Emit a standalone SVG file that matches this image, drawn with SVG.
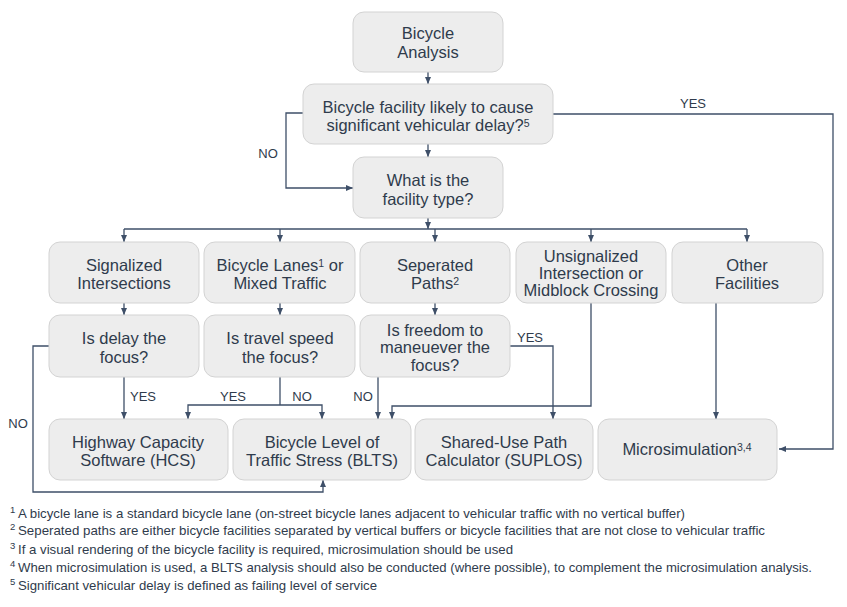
<svg xmlns="http://www.w3.org/2000/svg" width="847" height="607" viewBox="0 0 847 607">
<defs>
<style>
.box{fill:#ededed;stroke:#d3d3d3;stroke-width:1}
.t{font-family:"Liberation Sans",Arial,sans-serif;font-size:16.5px;fill:#2f3b4c;text-anchor:middle}
.sup{font-size:10.5px}
.lbl{font-family:"Liberation Sans",Arial,sans-serif;font-size:13px;fill:#2f3b4c;text-anchor:middle}
.fn{font-family:"Liberation Sans",Arial,sans-serif;font-size:13.5px;fill:#2f3b4c}
.fs{font-family:"Liberation Sans",Arial,sans-serif;font-size:9.5px;fill:#2f3b4c}
.c{fill:none;stroke:#3e4f68;stroke-width:1.3}
.a{marker-end:url(#arr)}
</style>
<marker id="arr" markerUnits="userSpaceOnUse" markerWidth="8" markerHeight="8" refX="7" refY="3" orient="auto">
<path d="M0,0 L7,3 L0,6 z" fill="#3e4f68"/>
</marker>
</defs>
<rect width="847" height="607" fill="#ffffff"/>

<g id="connectors">
<path class="c a" d="M428,72 V84"/>
<path class="c a" d="M428,144 V157"/>
<path class="c a" d="M303,113 H286 V188 H353"/>
<path class="c a" d="M553,114 H833 V449 H779"/>
<path class="c a" d="M428,218 V229"/>
<path class="c" d="M124,229 H747"/>
<path class="c a" d="M124,229 V242"/>
<path class="c a" d="M280,229 V242"/>
<path class="c a" d="M435,229 V242"/>
<path class="c a" d="M591,229 V242"/>
<path class="c a" d="M747,229 V242"/>
<path class="c a" d="M124,303 V315"/>
<path class="c a" d="M280,303 V315"/>
<path class="c a" d="M435,303 V315"/>
<path class="c a" d="M124,377 V419"/>
<path class="c a" d="M49,346 H33 V492 H323 V480"/>
<path class="c" d="M280,377 V405"/>
<path class="c a" d="M280,405 H188 V419"/>
<path class="c a" d="M280,405 H322 V419"/>
<path class="c a" d="M378,377 V419"/>
<path class="c a" d="M591,303 V406 H392 V419"/>
<path class="c a" d="M510,346 H553 V419"/>
<path class="c a" d="M716,303 V419"/>
<text class="lbl" x="268" y="158">NO</text>
<text class="lbl" x="693" y="108">YES</text>
<text class="lbl" x="143" y="401">YES</text>
<text class="lbl" x="233" y="401">YES</text>
<text class="lbl" x="302" y="401">NO</text>
<text class="lbl" x="363" y="401">NO</text>
<text class="lbl" x="530" y="342">YES</text>
<text class="lbl" x="18" y="428">NO</text>
</g>

<g id="n-bicycle-analysis">
<rect class="box" x="353" y="12" width="150" height="60" rx="11"/>
<text class="t" x="428" y="39">Bicycle</text>
<text class="t" x="428" y="58">Analysis</text>
</g>
<g id="n-delay-question">
<rect class="box" x="303" y="84" width="250" height="60" rx="11"/>
<text class="t" x="428" y="113">Bicycle facility likely to cause</text>
<text class="t" x="428" y="131">significant vehicular delay?<tspan class="sup" dy="-4">5</tspan></text>
</g>
<g id="n-facility-type">
<rect class="box" x="353" y="157" width="150" height="61" rx="11"/>
<text class="t" x="428" y="186">What is the</text>
<text class="t" x="428" y="205">facility type?</text>
</g>

<g id="n-signalized">
<rect class="box" x="49" y="242" width="150" height="61" rx="11"/>
<text class="t" x="124" y="271">Signalized</text>
<text class="t" x="124" y="289">Intersections</text>
</g>
<g id="n-bike-lanes">
<rect class="box" x="204" y="242" width="151" height="61" rx="11"/>
<text class="t" x="280" y="271">Bicycle Lanes<tspan class="sup" dy="-4">1</tspan><tspan dy="4"> or</tspan></text>
<text class="t" x="280" y="289">Mixed Traffic</text>
</g>
<g id="n-separated">
<rect class="box" x="360" y="242" width="150" height="61" rx="11"/>
<text class="t" x="435" y="271">Seperated</text>
<text class="t" x="435" y="289">Paths<tspan class="sup" dy="-4">2</tspan></text>
</g>
<g id="n-unsignalized">
<rect class="box" x="516" y="242" width="150" height="61" rx="11"/>
<text class="t" x="591" y="262">Unsignalized</text>
<text class="t" x="591" y="279">Intersection or</text>
<text class="t" x="591" y="296">Midblock Crossing</text>
</g>
<g id="n-other">
<rect class="box" x="672" y="242" width="151" height="61" rx="11"/>
<text class="t" x="747" y="271">Other</text>
<text class="t" x="747" y="289">Facilities</text>
</g>

<g id="n-delay-focus">
<rect class="box" x="49" y="315" width="150" height="62" rx="11"/>
<text class="t" x="124" y="344">Is delay the</text>
<text class="t" x="124" y="363">focus?</text>
</g>
<g id="n-speed-focus">
<rect class="box" x="204" y="315" width="151" height="62" rx="11"/>
<text class="t" x="280" y="344">Is travel speed</text>
<text class="t" x="280" y="363">the focus?</text>
</g>
<g id="n-freedom-focus">
<rect class="box" x="360" y="315" width="150" height="62" rx="11"/>
<text class="t" x="435" y="336">Is freedom to</text>
<text class="t" x="435" y="353">maneuever the</text>
<text class="t" x="435" y="371">focus?</text>
</g>

<g id="n-hcs">
<rect class="box" x="49" y="419" width="179" height="61" rx="11"/>
<text class="t" x="138" y="448">Highway Capacity</text>
<text class="t" x="138" y="466">Software (HCS)</text>
</g>
<g id="n-blts">
<rect class="box" x="233" y="419" width="178" height="61" rx="11"/>
<text class="t" x="322" y="448">Bicycle Level of</text>
<text class="t" x="322" y="466">Traffic Stress (BLTS)</text>
</g>
<g id="n-suplos">
<rect class="box" x="415" y="419" width="178" height="61" rx="11"/>
<text class="t" x="504" y="448">Shared-Use Path</text>
<text class="t" x="504" y="466">Calculator (SUPLOS)</text>
</g>
<g id="n-microsim">
<rect class="box" x="598" y="419" width="179" height="61" rx="11"/>
<text class="t" x="687" y="455">Microsimulation<tspan class="sup" dy="-4">3,4</tspan></text>
</g>

<g id="footnotes">
<text class="fs" x="10" y="513">1</text>
<text class="fn" x="18" y="518" textLength="667" lengthAdjust="spacingAndGlyphs">A bicycle lane is a standard bicycle lane (on-street bicycle lanes adjacent to vehicular traffic with no vertical buffer)</text>
<text class="fs" x="10" y="530">2</text>
<text class="fn" x="18" y="535" textLength="747" lengthAdjust="spacingAndGlyphs">Seperated paths are either bicycle facilities separated by vertical buffers or bicycle facilities that are not close to vehicular traffic</text>
<text class="fs" x="10" y="549">3</text>
<text class="fn" x="18" y="554" textLength="495" lengthAdjust="spacingAndGlyphs">If a visual rendering of the bicycle facility is required, microsimulation should be used</text>
<text class="fs" x="10" y="567">4</text>
<text class="fn" x="18" y="572" textLength="794" lengthAdjust="spacingAndGlyphs">When microsimulation is used, a BLTS analysis should also be conducted (where possible), to complement the microsimulation analysis.</text>
<text class="fs" x="10" y="585">5</text>
<text class="fn" x="18" y="590" textLength="359" lengthAdjust="spacingAndGlyphs">Significant vehicular delay is defined as failing level of service</text>
</g>
</svg>
